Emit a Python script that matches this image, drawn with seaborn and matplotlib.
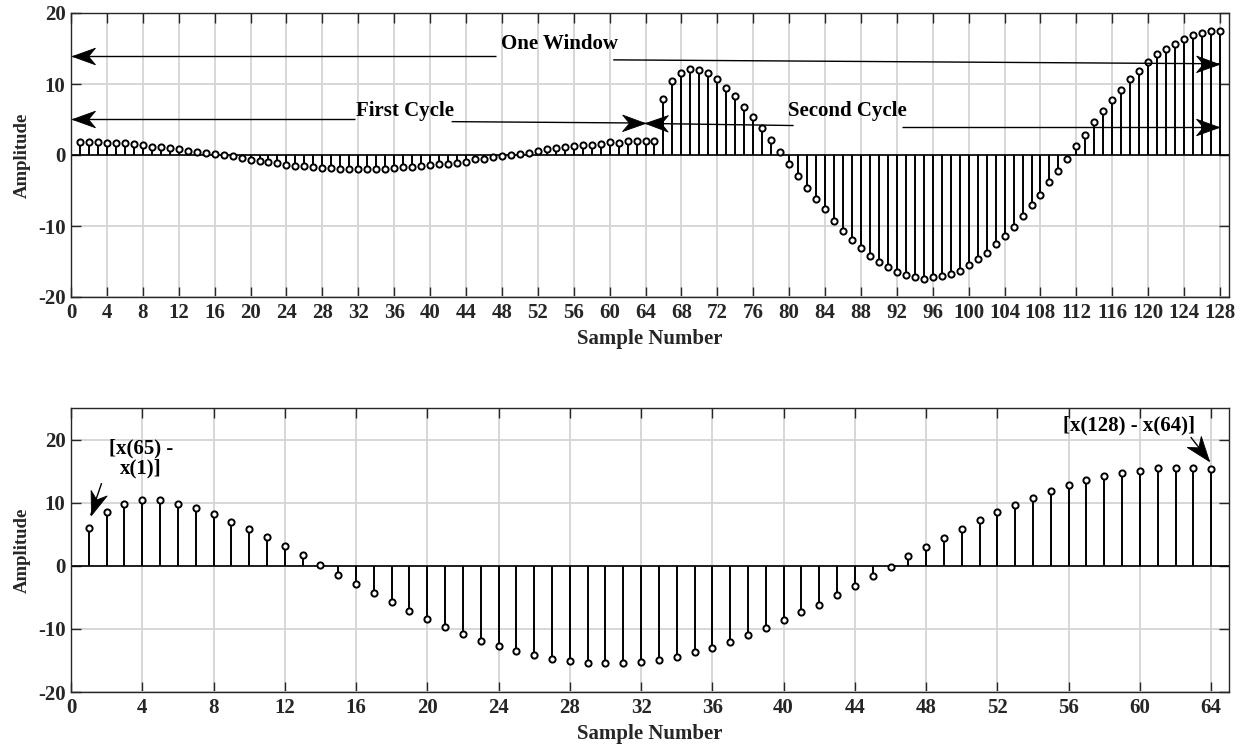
import numpy as np
import pandas as pd
import matplotlib
matplotlib.use("Agg")
import matplotlib.pyplot as plt
from matplotlib.path import Path
import seaborn as sns

# ---------------- data ----------------
top_samples = list(range(1, 129))
top_values = [
    1.88, 1.88, 1.88, 1.74, 1.74, 1.74, 1.55, 1.36, 1.17, 1.17,
    1.03, 0.90, 0.60, 0.42, 0.28, 0.10, -0.05, -0.20, -0.38, -0.70,
    -0.90, -1.03, -1.17, -1.36, -1.50, -1.50, -1.64, -1.78, -1.78, -1.97,
    -1.97, -1.97, -1.97, -1.97, -1.97, -1.83, -1.76, -1.74, -1.55, -1.40,
    -1.27, -1.27, -1.13, -0.94, -0.60, -0.50, -0.33, -0.14, 0.00, 0.19,
    0.33, 0.60, 0.80, 1.00, 1.17, 1.30, 1.45, 1.45, 1.60, 1.78,
    1.74, 1.92, 1.92, 1.92, 1.92, 7.84, 10.40, 11.60, 12.10, 12.00,
    11.50, 10.65, 9.50, 8.26, 6.80, 5.35, 3.80, 2.07, 0.42, -1.30,
    -2.90, -4.65, -6.24, -7.65, -9.25, -10.66, -11.97, -13.10, -14.18, -15.00,
    -15.80, -16.50, -16.95, -17.20, -17.40, -17.20, -17.10, -16.76, -16.30, -15.50,
    -14.70, -13.75, -12.60, -11.36, -10.10, -8.64, -7.00, -5.60, -3.85, -2.25,
    -0.56, 1.27, 2.86, 4.60, 6.20, 7.80, 9.20, 10.66, 11.90, 13.05,
    14.20, 14.90, 15.70, 16.40, 16.95, 17.20, 17.40, 17.40,
]

bottom_samples = list(range(1, 65))
bottom_values = [
    5.98, 8.47, 9.84, 10.42, 10.42, 9.84, 9.15, 8.25, 6.98, 5.77,
    4.50, 3.07, 1.64, 0.16, -1.48, -2.86, -4.29, -5.77, -7.20, -8.47,
    -9.68, -10.80, -11.85, -12.75, -13.50, -14.18, -14.70, -15.08, -15.45, -15.45,
    -15.45, -15.30, -14.90, -14.40, -13.70, -12.96, -12.06, -11.00, -9.90, -8.62,
    -7.35, -6.14, -4.66, -3.23, -1.59, -0.16, 1.48, 2.91, 4.34, 5.77,
    7.20, 8.47, 9.68, 10.79, 11.85, 12.75, 13.65, 14.18, 14.76, 15.08,
    15.45, 15.45, 15.45, 15.30,
]

top_xticks = list(range(0, 129, 4))
bottom_xticks = list(range(0, 65, 4))
yticks = [-20, -10, 0, 10, 20]

xlabel_text = "Sample Number"
ylabel_text = "Amplitude"

# ---------------- style ----------------
sns.set_theme(style="whitegrid")
plt.rcParams["font.family"] = ["Liberation Serif", "DejaVu Serif"]
plt.rcParams["font.weight"] = "bold"

fig = plt.figure(figsize=(12.46, 7.44), dpi=100)
ax1 = fig.add_axes([71 / 1246, 1 - 297 / 744, 1158 / 1246, 284 / 744])
ax2 = fig.add_axes([71 / 1246, 1 - 692 / 744, 1158 / 1246, 284 / 744])


def stem(ax, xs, ys, xlim, ylim, xticks):
    df = pd.DataFrame({"n": xs, "v": ys})
    ax.set_axisbelow(True)
    ax.grid(True, color="#d4d4d4", lw=1.3)
    ax.axhline(0, color="black", lw=1.2, zorder=2)
    ax.vlines(df["n"], 0, df["v"], color="black", lw=1.4, zorder=3)
    sns.scatterplot(data=df, x="n", y="v", ax=ax, marker="o", s=20,
                    facecolor="white", edgecolor="black", linewidth=1.4,
                    zorder=4, legend=False)
    ax.set_xlim(*xlim)
    ax.set_ylim(*ylim)
    ax.set_xticks(xticks)
    ax.set_yticks(yticks)
    ax.set_xticklabels([str(t) for t in xticks], fontsize=15, fontweight="bold")
    ax.set_yticklabels([str(t) for t in yticks], fontsize=15, fontweight="bold")
    ax.tick_params(direction="in", length=7, width=1, top=True, right=True,
                   bottom=True, left=True, colors="#262626", labelcolor="#262626",
                   pad=4)
    for sp in ax.spines.values():
        sp.set_visible(True)
        sp.set_color("#262626")
        sp.set_linewidth(1.0)
    ax.set_xlabel(xlabel_text, fontsize=15, fontweight="bold", color="#262626", labelpad=4.5)
    ax.set_ylabel(ylabel_text, fontsize=13.5, fontweight="bold", color="#262626", labelpad=5)


stem(ax1, top_samples, top_values, (0, 129), (-20, 20), top_xticks)
stem(ax2, bottom_samples, bottom_values, (0, 65), (-20, 25), bottom_xticks)


def arrow(ax, x0, y0, x1, y1, size=33):
    """Line from (x0,y0) to (x1,y1) with a notched (MATLAB-like) head at the end."""
    ax.plot([x0, x1], [y0, y1], color="black", lw=1.0, zorder=6,
             solid_capstyle="butt")
    p0 = ax.transData.transform((x0, y0))
    p1 = ax.transData.transform((x1, y1))
    ang = np.arctan2(p1[1] - p0[1], p1[0] - p0[0])
    base = np.array([[0.0, 0.0], [-1.0, 0.36], [-0.7, 0.0], [-1.0, -0.36], [0.0, 0.0]])
    rot = np.array([[np.cos(ang), -np.sin(ang)], [np.sin(ang), np.cos(ang)]])
    verts = base @ rot.T
    codes = [Path.MOVETO, Path.LINETO, Path.LINETO, Path.LINETO, Path.CLOSEPOLY]
    head = Path(verts, codes)
    ax.plot([x1], [y1], marker=head, markersize=size, color="black",
            markeredgewidth=0.6, linestyle="none", zorder=7)


tkw = dict(fontsize=15, fontweight="bold", color="black", zorder=8)

# top annotations
ax1.text(54.4, 15.6, "One Window", ha="center", va="center", **tkw)
arrow(ax1, 47.3, 14.0, 0.1, 14.0)
arrow(ax1, 60.4, 13.4, 127.9, 12.85)
ax1.text(37.2, 6.2, "First Cycle", ha="center", va="center", **tkw)
arrow(ax1, 31.6, 5.04, 0.1, 5.04)
arrow(ax1, 42.4, 4.7, 63.9, 4.5)
ax1.text(86.5, 6.2, "Second Cycle", ha="center", va="center", **tkw)
arrow(ax1, 80.5, 4.15, 63.9, 4.45)
arrow(ax1, 92.6, 3.9, 127.9, 3.9)

# bottom annotations
ax2.text(3.93, 17.0, "[x(65) -\nx(1)]", ha="center", va="center",
         linespacing=1.05, **tkw)
arrow(ax2, 1.72, 13.1, 1.1, 8.0, size=36)
ax2.text(59.4, 22.3, "[x(128) - x(64)]", ha="center", va="center", **tkw)
arrow(ax2, 62.85, 20.4, 63.9, 16.6, size=36)

fig.savefig("out.png", dpi=100)
